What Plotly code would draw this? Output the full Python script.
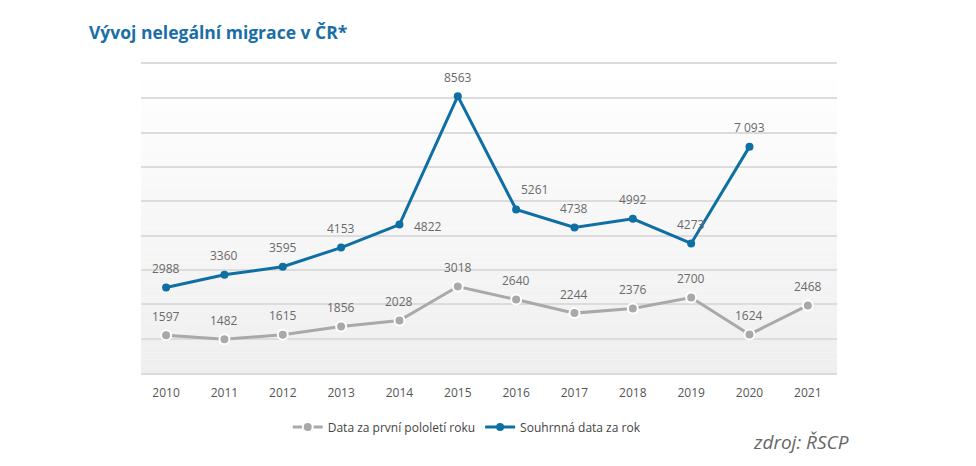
import plotly.graph_objects as go

years = ["2010", "2011", "2012", "2013", "2014", "2015", "2016", "2017", "2018", "2019", "2020", "2021"]
first_half = [1597, 1482, 1615, 1856, 2028, 3018, 2640, 2244, 2376, 2700, 1624, 2468]
first_half_labels = ["1597", "1482", "1615", "1856", "2028", "3018", "2640", "2244", "2376", "2700", "1624", "2468"]
full_year = [2988, 3360, 3595, 4153, 4822, 8563, 5261, 4738, 4992, 4273, 7093, None]
full_year_labels = ["2988", "3360", "3595", "4153", "4822", "8563", "5261", "4738", "4992", "4273", "7 093", ""]

BLUE = "#0e6fa3"
GRAY = "#a9a9a9"
LABEL = "#6a6a6a"
FONT = "Open Sans"

fig = go.Figure()

fig.add_trace(go.Scatter(
    x=years, y=first_half, mode="lines+markers",
    name="Data za první pololetí roku",
    line=dict(color=GRAY, width=3),
    marker=dict(size=10, color=GRAY, line=dict(color="white", width=2)),
))
fig.add_trace(go.Scatter(
    x=years, y=full_year, mode="lines+markers",
    name="Souhrnná data za rok",
    line=dict(color=BLUE, width=3),
    marker=dict(size=8, color=BLUE),
    connectgaps=False,
))

annotations = []
for i, (v, t) in enumerate(zip(first_half, first_half_labels)):
    annotations.append(dict(x=i, y=v, text=t, showarrow=False, yshift=19,
                            xanchor="center", yanchor="middle",
                            font=dict(family=FONT, size=12, color=LABEL)))
for i, (v, t) in enumerate(zip(full_year, full_year_labels)):
    if v is None:
        continue
    xs, ys = 0, 19
    if years[i] == "2014":
        xs, ys = 29, -2
    if years[i] == "2016":
        xs, ys = 18, 20
    annotations.append(dict(x=i, y=v, text=t, showarrow=False, yshift=ys, xshift=xs,
                            xanchor="center", yanchor="middle",
                            font=dict(family=FONT, size=12, color=LABEL)))

annotations.append(dict(xref="paper", yref="paper", x=-0.078, y=1.104, xanchor="left", yanchor="middle",
                        text="<b>Vývoj nelegální migrace v ČR*</b>", showarrow=False,
                        font=dict(family=FONT, size=17.5, color="#1a6ea6")))
annotations.append(dict(xref="paper", yref="paper", x=0.948, y=-0.223, xanchor="center", yanchor="middle",
                        text="<i>zdroj: ŘSCP</i>", showarrow=False,
                        font=dict(family=FONT, size=19, color="#666666")))

# background gradient (white at top to light gray at bottom)
shapes = []
n = 45
for k in range(n):
    f = k / (n - 1)
    c = int(round(255 - 16 * (1 - f)))
    shapes.append(dict(type="rect", xref="paper", yref="paper", x0=0, x1=1,
                       y0=k / n, y1=(k + 1) / n, line=dict(width=0),
                       fillcolor=f"rgb({c},{c},{c})", layer="below"))

fig.update_layout(
    width=960, height=450,
    margin=dict(l=133, r=131, t=56, b=85),
    paper_bgcolor="white", plot_bgcolor="white",
    font=dict(family=FONT, color="#555555"),
    showlegend=True,
    legend=dict(orientation="h", x=0.468, y=-0.175, xanchor="center", yanchor="middle",
                font=dict(family=FONT, size=12, color="#444444"), itemwidth=30,
                bgcolor="rgba(0,0,0,0)"),
    annotations=annotations,
    shapes=shapes,
    xaxis=dict(type="category", range=[-0.43, 11.5], showgrid=False, showline=True, mirror=True,
               linecolor="#dcdcdc", linewidth=2, ticks="", ticklabelstandoff=8,
               tickfont=dict(family=FONT, size=12, color="#555555"), fixedrange=True),
    yaxis=dict(range=[500, 9500], tick0=500, dtick=1000, showgrid=True, gridcolor="#dcdcdc",
               gridwidth=1.5, showticklabels=False, zeroline=False, showline=False, fixedrange=True),
)

fig.write_html("out.html")
